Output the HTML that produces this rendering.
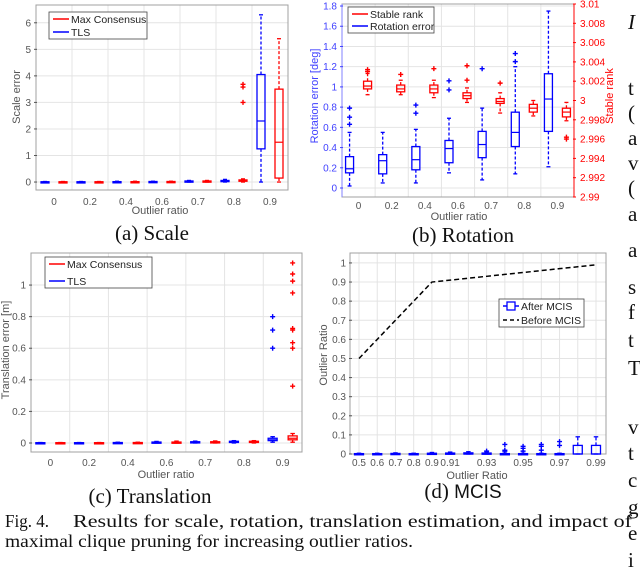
<!DOCTYPE html>
<html><head><meta charset="utf-8"><style>
html,body{margin:0;padding:0;background:#fff;}
body{position:relative;width:640px;height:571px;overflow:hidden;}
svg{display:block;position:absolute;left:0;top:0;}
text{font-family:"Liberation Sans",sans-serif;}
.serif{font-family:"Liberation Serif",serif;}
</style></head><body>
<svg id="fig" width="640" height="571" viewBox="0 0 640 571" xmlns="http://www.w3.org/2000/svg"></svg>
<script>
// ===== (a) Scale =====
const aCats = ['0','0.2','0.4','0.6','0.7','0.8','0.9'];
const aTLS = [[0,0,0.005,0.01,0.02],[0,0,0.005,0.01,0.02],[0,0,0.008,0.015,0.03],[0,0,0.01,0.02,0.03],[0,0.01,0.02,0.04,0.06],[0,0.02,0.04,0.06,0.1],[0,1.25,2.3,4.05,6.3]];
const aMC = [[0,0,0.005,0.01,0.02],[0,0,0.005,0.01,0.02],[0,0,0.008,0.015,0.03],[0,0,0.01,0.02,0.03],[0,0.01,0.02,0.04,0.06],[0,0.03,0.05,0.08,0.12],[0,0.15,1.5,3.5,5.4]];
const aMCOut = [[],[],[],[],[],[3.0,3.58,3.68],[]];
const aTLSOut = [[],[],[],[],[],[],[]];
const aTicks = [0,1,2,3,4,5,6];
// ===== (b) Rotation =====
const bCats = ['0','0.2','0.4','0.6','0.7','0.8','0.9'];
const bRot = [[0.02,0.15,0.19,0.31,0.55],[0.05,0.14,0.27,0.33,0.55],[0.05,0.18,0.28,0.41,0.58],[0.15,0.25,0.39,0.47,0.69],[0.08,0.30,0.43,0.56,0.79],[0.14,0.41,0.55,0.75,1.2],[0.21,0.56,0.88,1.13,1.75]];
const bRotOut = [[0.63,0.70,0.79],[],[0.74,0.82],[0.97,1.06],[1.18],[1.25,1.33],[]];
const bRank = [[3.0006,3.0012,3.0015,3.002,3.0028],[3.0006,3.0009,3.0012,3.0016,3.0021],[3.0003,3.0008,3.0012,3.0016,3.0021],[2.9998,3.0002,3.0005,3.0008,3.0013],[2.9987,2.9997,2.9999,3.0002,3.0008],[2.9984,2.9988,2.9992,2.9996,3.0],[2.9979,2.9983,2.9988,2.9992,2.9998]];
const bRankOut = [[3.003,3.0032],[3.0027],[3.0033],[3.0021,3.0036],[3.0018],[],[2.9962,2.996]];
const bLeftTicks = [0,0.2,0.4,0.6,0.8,1,1.2,1.4,1.6,1.8];
const bRightTicks = [2.99,2.992,2.994,2.996,2.998,3,3.002,3.004,3.006,3.008,3.01];
// ===== (c) Translation =====
const cCats = ['0','0.2','0.4','0.6','0.7','0.8','0.9'];
const cTLS = [[0,0,0.001,0.002,0.003],[0,0,0.001,0.002,0.003],[0,0.001,0.002,0.003,0.005],[0,0.002,0.004,0.006,0.01],[0,0.003,0.005,0.008,0.012],[0,0.005,0.008,0.011,0.015],[0.005,0.015,0.02,0.03,0.04]];
const cMC = [[0,0,0.001,0.002,0.003],[0,0,0.001,0.002,0.003],[0,0.001,0.002,0.003,0.005],[0,0.002,0.004,0.006,0.012],[0,0.003,0.005,0.008,0.013],[0,0.005,0.008,0.011,0.015],[0.005,0.02,0.03,0.045,0.06]];
const cTLSOut = [[],[],[],[],[],[],[0.6,0.715,0.8]];
const cMCOut = [[],[],[],[],[],[],[0.36,0.6,0.635,0.715,0.725,0.95,1.025,1.07,1.14]];
const cTicks = [0,0.2,0.4,0.6,0.8,1];
// ===== (d) MCIS =====
const dCats = [0.5,0.6,0.7,0.8,0.9,0.91,0.92,0.93,0.94,0.95,0.96,0.97,0.98,0.99];
const dLabels = ['0.5','0.6','0.7','0.8','0.9','0.91','','0.93','','0.95','','0.97','','0.99'];
const dBefore = [0.5,0.6,0.7,0.8,0.9,0.91,0.92,0.93,0.94,0.95,0.96,0.97,0.98,0.99];
const dAfter = [[0,0,0,0.002,0.004],[0,0,0,0.002,0.004],[0,0,0,0.003,0.006],[0,0,0,0.002,0.004],[0,0,0,0.004,0.008],[0,0,0,0.005,0.01],[0,0,0,0.006,0.012],[0,0,0,0.005,0.01],[0,0,0,0.002,0.005],[0,0,0,0.002,0.004],[0,0,0,0.002,0.004],[0,0,0,0.002,0.004],[0,0,0,0.045,0.09],[0,0,0,0.045,0.09]];
const dAfterOut = [[],[],[],[],[],[],[],[0.015],[0.015,0.02,0.05],[0.015,0.03,0.04],[0.02,0.04,0.05],[0.045,0.065],[],[]];
const dTicks = [0,0.1,0.2,0.3,0.4,0.5,0.6,0.7,0.8,0.9,1];

const NS='http://www.w3.org/2000/svg';
const svg=document.getElementById('fig');
function el(tag,attrs,parent){const e=document.createElementNS(NS,tag);for(const k in attrs)e.setAttribute(k,attrs[k]);(parent||svg).appendChild(e);return e;}
function txt(s,attrs,parent){const t=el('text',attrs,parent);t.textContent=s;return t;}
function lin(d0,d1,r0,r1){return v=>r0+(v-d0)*(r1-r0)/(d1-d0);}
const BLUE='#0000ff',RED='#ff0000',GRID='#e4e4e4',FRAME='#a0a0a0',TICK='#555';

function frame(g,L,R,T,B){
  const r=el('rect',{x:L,y:T,width:R-L,height:B-T,fill:'none',stroke:FRAME,'stroke-width':1},g);
  
  
}
function hgrid(g,ys,L,R){ys.forEach(y=>{const l=el('line',{x1:L,x2:R,y1:y,y2:y,stroke:GRID,'stroke-width':1},g);
  
  });}
function vgrid(g,xs,T,B){xs.forEach(x=>{const l=el('line',{x1:x,x2:x,y1:T,y2:B,stroke:GRID,'stroke-width':1},g);
  
  });}
function ytickLabels(g,ticks,ys,x,color,anchor,fmt){ticks.forEach((t,i)=>{const e=txt(fmt?fmt(t):String(t),{x:x,y:ys(t)+3.5,'font-size':10,fill:color,'text-anchor':anchor},g);
  
  
  const tk=el('line',{x1:anchor==='end'?x+3:x-7,x2:anchor==='end'?x+6:x-4,y1:ys(t),y2:ys(t),stroke:color,'stroke-width':1},g);
  
  });}
function plus(g,x,y,color){const p=el('path',{d:`M${x-2.5} ${y}H${x+2.5}M${x} ${y-2.5}V${y+2.5}`,stroke:color,'stroke-width':1.4,fill:'none'},g);
  
  }
function box(g,cx,w,s,ys,color,name){
  const b=el('g',{},g);
  
  
  el('line',{x1:cx,x2:cx,y1:ys(s[3]),y2:ys(s[4]),stroke:color,'stroke-width':1.3,'stroke-dasharray':'3,2'},b);
  el('line',{x1:cx,x2:cx,y1:ys(s[1]),y2:ys(s[0]),stroke:color,'stroke-width':1.3,'stroke-dasharray':'3,2'},b);
  el('line',{x1:cx-w/4,x2:cx+w/4,y1:ys(s[4]),y2:ys(s[4]),stroke:color,'stroke-width':1.3},b);
  el('line',{x1:cx-w/4,x2:cx+w/4,y1:ys(s[0]),y2:ys(s[0]),stroke:color,'stroke-width':1.3},b);
  el('rect',{x:cx-w/2,y:ys(s[3]),width:w,height:Math.max(1.2,ys(s[1])-ys(s[3])),fill:'none',stroke:color,'stroke-width':1.3},b);
  el('line',{x1:cx-w/2,x2:cx+w/2,y1:ys(s[2]),y2:ys(s[2]),stroke:color,'stroke-width':1.2},b);
}
function legend(g,x,y,w,h,items){
  const lg=el('g',{},g);
  
  
  el('rect',{x:x,y:y,width:w,height:h,fill:'#fff',stroke:'#444','stroke-width':0.8},lg);
  items.forEach((it,i)=>{const yy=y+7+i*(h-14)/(items.length-1);
    const e=el('g',{},lg);
    
    
    el('line',{x1:x+4,x2:x+20,y1:yy,y2:yy,stroke:it.c,'stroke-width':1.5,'stroke-dasharray':it.dash||'none'},e);
    if(it.sq) el('rect',{x:x+8,y:yy-4,width:8,height:8,fill:'#fff',stroke:it.c,'stroke-width':1.3},e);
    txt(it.t,{x:x+22,y:yy+4,'font-size':10.5,fill:'#222'},e);});
}
function catLabels(g,cats,xs,y){cats.forEach((c,i)=>{if(!c)return;const e=txt(c,{x:xs(i),y:y,'font-size':10,fill:TICK,'text-anchor':'middle'},g);
  
  });}
function label(g,s,x,y,rot,color,name,size){const e=txt(s,{x:x,y:y,'font-size':size||11,fill:color||TICK,'text-anchor':'middle',transform:rot?`rotate(-90 ${x} ${y})`:''},g);
  
  }
function caption(s1,s2,x,y,name,sans){const e=el('text',{x:x,y:y,'font-size':21,fill:'#111','text-anchor':'middle',class:'serif'});
  
  
  const a=el('tspan',{},e);a.textContent=s1+' ';
  const b=el('tspan',{style:sans?'font-family:\"Liberation Sans\",sans-serif;font-size:19px':''},e);b.textContent=s2;}

// ---- chart a ----
(function(){
  const g=el('g',{});
  const L=36,R=288,T=5,B=190,n=aCats.length,gw=(R-L)/n;
  const ys=lin(-0.3,6.67,B,T), xc=i=>L+gw*(i+0.5);
  hgrid(g,aTicks.map(ys),L,R);vgrid(g,aCats.slice(1).map((c,i)=>L+gw*(i+1)),T,B);
  frame(g,L,R,T,B);
  ytickLabels(g,aTicks,ys,31,TICK,'end');
  catLabels(g,aCats,xc,205);
  aTLS.forEach((s,i)=>{box(g,xc(i)-9,8,s,ys,BLUE,'tls-box');aTLSOut[i].forEach(v=>plus(g,xc(i)-9,ys(v),BLUE));});
  aMC.forEach((s,i)=>{box(g,xc(i)+9,8,s,ys,RED,'maxcon-box');aMCOut[i].forEach(v=>plus(g,xc(i)+9,ys(v),RED));});
  legend(g,49,12,98,27,[{t:'Max Consensus',c:RED},{t:'TLS',c:BLUE}]);
  label(g,'Outlier ratio',160,214,false,TICK,'x-axis-title');
  label(g,'Scale error',20,97,true,TICK,'y-axis-title');
  caption('(a)','Scale',152,240,'caption-a');
})();
// ---- chart b ----
(function(){
  const g=el('g',{});
  const L=342,R=574,T=4,B=197,n=bCats.length,gw=(R-L)/n;
  const ys=lin(-0.089,1.82,B,T), yr=lin(2.99,3.01,B,T), xc=i=>L+gw*(i+0.5);
  hgrid(g,bLeftTicks.map(ys),L,R);vgrid(g,bCats.slice(1).map((c,i)=>L+gw*(i+1)),T,B);
  frame(g,L,R,T,B);
  el('line',{x1:R,x2:R,y1:T,y2:B,stroke:RED,'stroke-width':1},g);
  el('line',{x1:L,x2:L,y1:T,y2:B,stroke:'#8080ff','stroke-width':1},g);
  ytickLabels(g,bLeftTicks,ys,337,'#4040ff','end');
  ytickLabels(g,bRightTicks,yr,580,RED,'start',v=>String(+v.toFixed(3)));
  catLabels(g,bCats,xc,209);
  bRot.forEach((s,i)=>{box(g,xc(i)-9,8,s,ys,BLUE,'rotation-error-box');bRotOut[i].forEach(v=>plus(g,xc(i)-9,ys(v),BLUE));});
  bRank.forEach((s,i)=>{box(g,xc(i)+9,8,s,yr,RED,'stable-rank-box');bRankOut[i].forEach(v=>plus(g,xc(i)+9,yr(v),RED));});
  legend(g,348,7,86,26,[{t:'Stable rank',c:RED},{t:'Rotation error',c:BLUE}]);
  label(g,'Outlier ratio',459,220,false,TICK,'x-axis-title');
  label(g,'Rotation error [deg]',318,96,true,'#4040ff','y-axis-title');
  label(g,'Stable rank',613,96,true,RED,'right-axis-title');
  caption('(b)','Rotation',463,242,'caption-b');
})();
// ---- chart c ----
(function(){
  const g=el('g',{});
  const L=31,R=302,T=253,B=452,n=cCats.length,gw=(R-L)/n;
  const ys=lin(-0.057,1.203,B,T), xc=i=>L+gw*(i+0.5);
  hgrid(g,cTicks.map(ys),L,R);vgrid(g,cCats.slice(1).map((c,i)=>L+gw*(i+1)),T,B);
  frame(g,L,R,T,B);
  ytickLabels(g,cTicks,ys,26,TICK,'end');
  catLabels(g,cCats,xc,466);
  cTLS.forEach((s,i)=>{box(g,xc(i)-10,9,s,ys,BLUE,'tls-box');cTLSOut[i].forEach(v=>plus(g,xc(i)-10,ys(v),BLUE));});
  cMC.forEach((s,i)=>{box(g,xc(i)+10,9,s,ys,RED,'maxcon-box');cMCOut[i].forEach(v=>plus(g,xc(i)+10,ys(v),RED));});
  legend(g,45,257,107,31,[{t:'Max Consensus',c:RED},{t:'TLS',c:BLUE}]);
  label(g,'Outlier ratio',166,478,false,TICK,'x-axis-title');
  label(g,'Translation error [m]',9,350,true,TICK,'y-axis-title');
  caption('(c)','Translation',150,503,'caption-c');
})();
// ---- chart d ----
(function(){
  const g=el('g',{});
  const L=350,R=606,T=253,B=454;
  const ys=lin(0,1.052,B,T), xc=i=>359+i*(596-359)/(dCats.length-1);
  hgrid(g,dTicks.map(ys),L,R);vgrid(g,dCats.map((c,i)=>xc(i)),T,B);
  frame(g,L,R,T,B);
  ytickLabels(g,dTicks,ys,346,TICK,'end');
  catLabels(g,dLabels,xc,466);
  const pts=dBefore.map((v,i)=>xc(i)+','+ys(v)).join(' ');
  const pl=el('polyline',{points:pts,fill:'none',stroke:'#000','stroke-width':1.5,'stroke-dasharray':'5,3'},g);
  
  
  dAfter.forEach((s,i)=>{box(g,xc(i),9,s,ys,BLUE,'after-mcis-box');dAfterOut[i].forEach(v=>plus(g,xc(i),ys(v),BLUE));});
  legend(g,499,299,85,28,[{t:'After MCIS',c:BLUE,sq:true},{t:'Before MCIS',c:'#000',dash:'4,3'}]);
  label(g,'Outlier Ratio',477,479,false,TICK,'x-axis-title');
  label(g,'Outlier Ratio',327,355,true,TICK,'y-axis-title');
  caption('(d)','MCIS',463,498,'caption-d',true);
})();
// ---- figure caption ----
(function(){
  const f=el('text',{x:5,y:527,'font-size':18,fill:'#111',class:'serif',textLength:44,lengthAdjust:'spacingAndGlyphs'});
  
  
  f.textContent='Fig. 4.';
  const l1=el('text',{x:73,y:527,'font-size':18,fill:'#111',class:'serif',textLength:559,lengthAdjust:'spacingAndGlyphs'});
  
  
  l1.textContent='Results for scale, rotation, translation estimation, and impact of';
  const l2=el('text',{x:5,y:547,'font-size':18,fill:'#111',class:'serif',textLength:408,lengthAdjust:'spacingAndGlyphs'});
  
  
  l2.textContent='maximal clique pruning for increasing outlier ratios.';
  const letters=['I','t','(','a','v','(','a','a','s','f','t','T','v','t','c','g','e','i'];
  const ly=[29,95,120,145,170,195,221,257,294,319,347,375,434,460,487,514,540,567];
  letters.forEach((c,i)=>{const e=el('text',{x:628,y:ly[i],'font-size':21,fill:'#111',class:'serif','font-style':i===0?'italic':'normal'});
    
    
    e.textContent=c;});
})();
</script>
</body></html>
